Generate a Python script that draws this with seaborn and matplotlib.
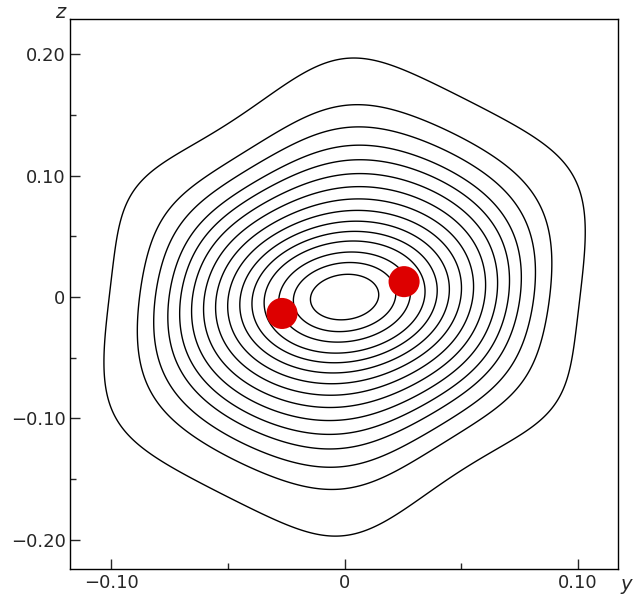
import numpy as np
import matplotlib
matplotlib.use("Agg")
import matplotlib.pyplot as plt
import seaborn as sns

# data
point_y = [-0.0268, 0.0255]
point_z = [-0.0135, 0.0127]
levels = [0.14, 0.21, 0.27, 0.33, 0.38, 0.43, 0.48, 0.53, 0.58, 0.63, 0.68, 0.73, 0.79, 0.86, 1.0]
x_ticks = [-0.10, 0, 0.10]
x_labels = ["\u22120.10", "0", "0.10"]
y_ticks = [-0.20, -0.10, 0, 0.10, 0.20]
y_labels = ["\u22120.20", "\u22120.10", "0", "0.10", "0.20"]

sns.set_style("white")
plt.rcParams['font.family'] = ['DejaVu Sans']
fig, ax = plt.subplots(figsize=(6.4, 5.94), dpi=100)
fig.subplots_adjust(left=0.11, right=0.965, top=0.968, bottom=0.042)

gy = np.linspace(-0.13, 0.13, 500)
gz = np.linspace(-0.24, 0.24, 500)
Y, Z = np.meshgrid(gy, gz)
u = Y / 0.104
r0 = np.sqrt(u**2 + (Z / 0.135)**2)
sz = 0.132 + 0.064 * (1 - np.exp(-r0**2))
v = Z / sz
q = u**2 + v**2 - 0.2 * u * v
r = np.sqrt(q)
th = np.arctan2(v, u)
F = r * (1 + 0.035 * np.clip(r, 0, 1.1)**4 * np.cos(6 * th + 0.0))
ax.contour(Y, Z, F, levels=levels, colors='black', linewidths=1.0)

sns.scatterplot(x=point_y, y=point_z, ax=ax, color='#dd0000', s=500, edgecolor='none', zorder=5)

ax.set_xlim(-0.1175, 0.117)
ax.set_ylim(-0.224, 0.229)
ax.set_xticks(x_ticks)
ax.set_xticklabels(x_labels, fontsize=13)
ax.set_yticks(y_ticks)
ax.set_yticklabels(y_labels, fontsize=13)
ax.set_xticks([-0.05, 0.05], minor=True)
ax.set_yticks([-0.15, -0.05, 0.05, 0.15], minor=True)
ax.tick_params(which='major', direction='in', length=7, width=1, left=True, bottom=True)
ax.tick_params(which='minor', direction='in', length=4, width=1, left=True, bottom=True)
for s in ax.spines.values():
    s.set_color('black'); s.set_linewidth(1)
ax.text(1.005, -0.01, "y", transform=ax.transAxes, fontsize=14, style='italic', ha='left', va='top')
ax.text(-0.01, 0.995, "z", transform=ax.transAxes, fontsize=14, style='italic', ha='right', va='bottom')
fig.savefig("out.png")
